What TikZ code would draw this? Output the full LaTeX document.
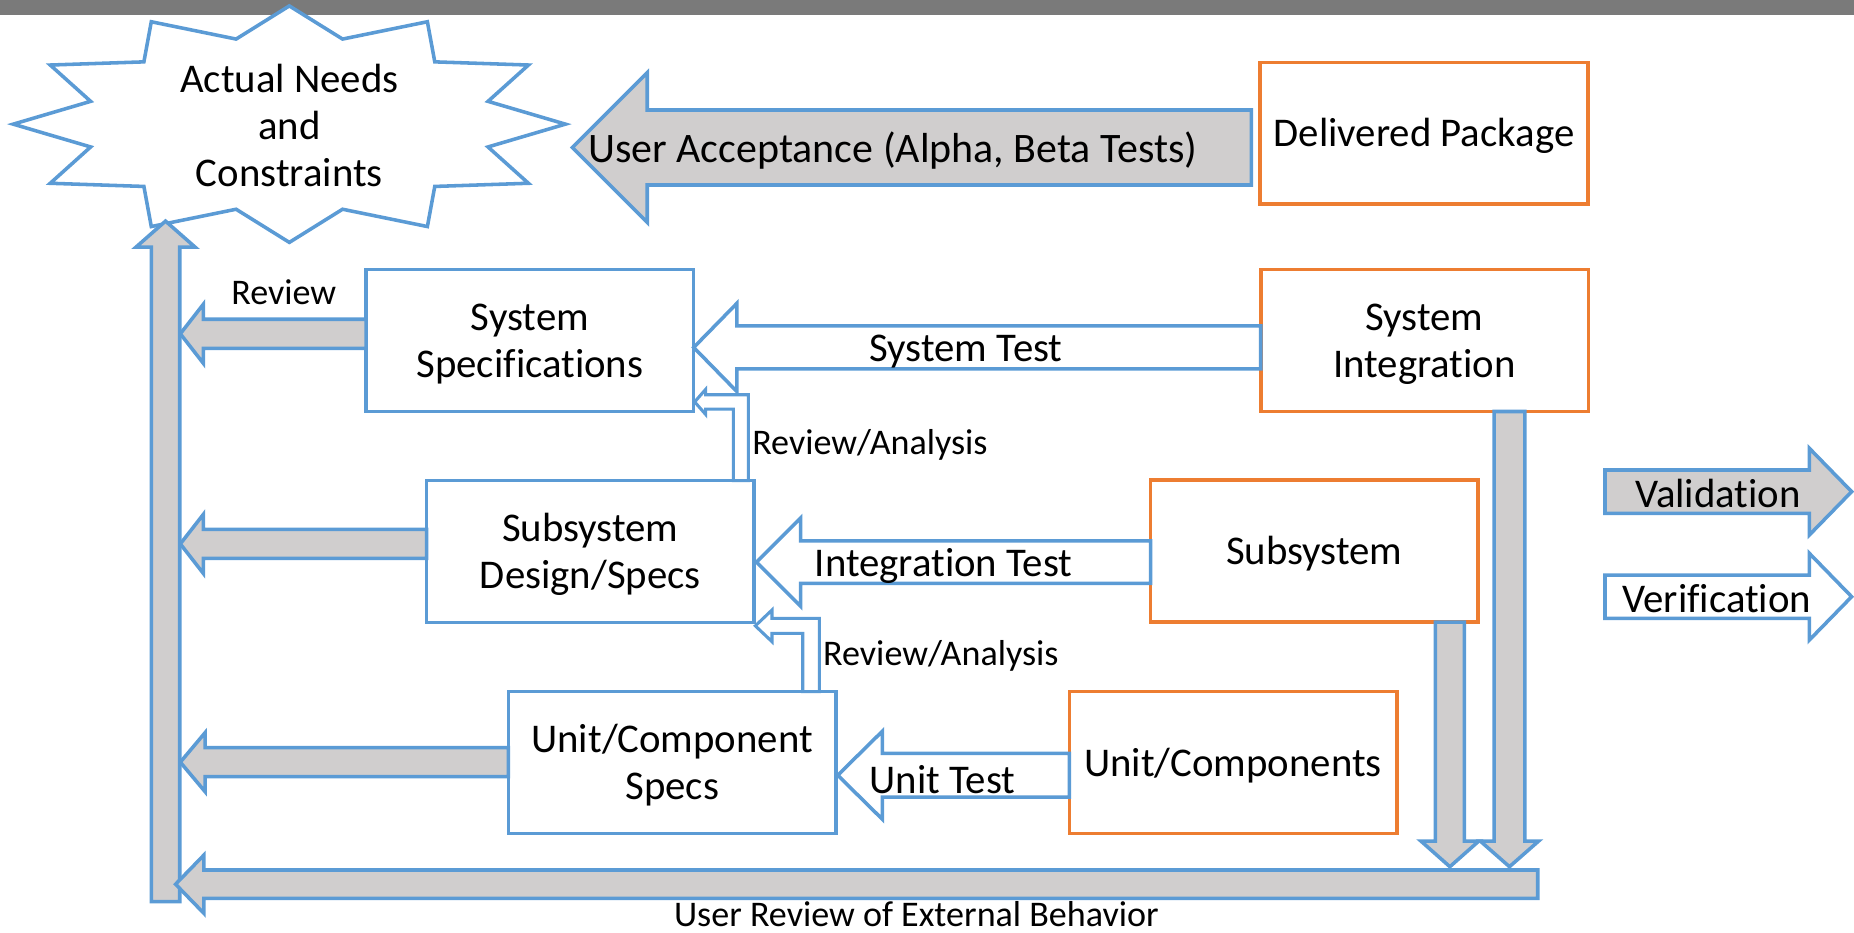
\documentclass[tikz,border=0pt]{standalone}
\usepackage{fontspec}
\setmainfont{Carlito}[Ligatures={NoCommon}]
\usetikzlibrary{calc}
\definecolor{bblue}{HTML}{5B9BD5}
\definecolor{borange}{HTML}{ED7D31}
\definecolor{bgray}{HTML}{D0CECE}
\definecolor{topbar}{HTML}{7A7A7A}
\newcommand\BigTxt{\fontsize{34.5pt}{40pt}\selectfont}
\newcommand\SmallTxt{\fontsize{30.5pt}{36pt}\selectfont}
\newcommand\boxtext[1]{\raisebox{-3.5pt}[\height][\depth]{\begin{tabular}{@{}c@{}}#1\end{tabular}}}
% horizontal block arrow: style, tail, tip, shaft half width, head half width, head length
\newcommand\harrow[6]{%
  \path[#1] let \p1=(#2), \p2=(#3), \n1={sign(\x1-\x2)} in
   (\x1,\y2+#4) -- (\x2+\n1*#6,\y2+#4) -- (\x2+\n1*#6,\y2+#5) -- (\x2,\y2)
   -- (\x2+\n1*#6,\y2-#5) -- (\x2+\n1*#6,\y2-#4) -- (\x1,\y2-#4) -- cycle;}
% vertical block arrow
\newcommand\varrow[6]{%
  \path[#1] let \p1=(#2), \p2=(#3), \n1={sign(\y1-\y2)} in
   (\x2+#4,\y1) -- (\x2+#4,\y2+\n1*#6) -- (\x2+#5,\y2+\n1*#6) -- (\x2,\y2)
   -- (\x2-#5,\y2+\n1*#6) -- (\x2-#4,\y2+\n1*#6) -- (\x2-#4,\y1) -- cycle;}
% bent arrow (up, then left): style, base-left, tip, shaft half, head half, head length, vertical width
\newcommand\bentarrow[7]{%
  \path[#1] let \p1=(#2), \p2=(#3) in
   (\x1,\y1) -- (\x1,\y2-#4) -- (\x2+#6,\y2-#4) -- (\x2+#6,\y2-#5) -- (\x2,\y2)
   -- (\x2+#6,\y2+#5) -- (\x2+#6,\y2+#4) -- (\x1+#7,\y2+#4) -- (\x1+#7,\y1) -- cycle;}
\begin{document}
\begin{tikzpicture}[x=1pt,y=-1pt,line join=miter,
  box/.style={draw=bblue, line width=3pt, fill=white, minimum width=277pt,
    minimum height=120pt, inner sep=0pt, outer sep=0pt, font=\BigTxt},
  obox/.style={box, draw=borange},
  garrow/.style={draw=bblue, line width=3pt, fill=bgray},
  warrow/.style={draw=bblue, line width=3pt, fill=white},
  thinarrow/.style={draw=bblue, line width=2.6pt, fill=white},
  lbl/.style={font=\SmallTxt, inner sep=0pt},
  blbl/.style={font=\BigTxt, inner sep=0pt, align=center}]
\useasboundingbox (0,0) rectangle (1568,789);
\fill[topbar] (0,0) rectangle (1568,12.5);
% star
\draw[line width=3pt, draw=bblue, fill=white]
  plot[samples=24, domain=0:23, variable=\k]
  ({244.7+233.5*(1-0.255*mod(round(\k),2))*cos(90+15*\k)},
   {105-100*(1-0.255*mod(round(\k),2))*sin(90+15*\k)}) -- cycle;
\node[blbl] (needs) at (244.7,106) {Actual Needs\\and\\Constraints};
% boxes
\node[obox] (delivered) at (1204.3,112.75) {\boxtext{Delivered Package}};
\node[obox] (sysint) at (1204.75,288) {\boxtext{System\\Integration}};
\node[obox] (subsys) at (1111.6,466.15) {\boxtext{Subsystem}};
\node[obox] (unitcomp) at (1042.85,644.9) {\boxtext{Unit/Components}};
\node[box] (sysspec) at (448.2,288) {\boxtext{System\\Specifications}};
\node[box] (subdes) at (499.3,466.5) {\boxtext{Subsystem\\Design/Specs}};
\node[box] (unitspec) at (568.5,644.9) {\boxtext{Unit/Component\\Specs}};
% helper coordinates
\coordinate (barR) at (152.5,0);
\coordinate (barBot) at (140.3,762.6);
\coordinate (barTip) at (140,187);
\coordinate (botTail) at (1300.5,747.8);
\coordinate (botTip) at (148.5,747.8);
% up bar to the needs
\varrow{garrow}{barBot}{barTip}{12pt}{25pt}{22pt}
% bottom arrow
\harrow{garrow}{botTail}{botTip}{12pt}{24.7pt}{24pt}
% review arrows to the bar
\coordinate (revTail) at ($(sysspec.west)+(0,-5.7)$);
\coordinate (revTip) at (revTail -| barR);
\harrow{garrow}{revTail}{revTip}{12.3pt}{25pt}{19.5pt}
\coordinate (sdTail) at ($(subdes.west)+(0,-6.5)$);
\coordinate (sdTip) at (sdTail -| barR);
\harrow{garrow}{sdTail}{sdTip}{12.3pt}{25pt}{19.5pt}
\coordinate (usTail) at ($(unitspec.west)+(0,-0.3)$);
\coordinate (usTip) at (usTail -| barR);
\harrow{garrow}{usTail}{usTip}{12.3pt}{25pt}{21pt}
% down arrows
\coordinate (dnA) at ($(subsys.south)+(114.6,0)$);
\coordinate (dnAt) at ($(dnA |- botTail)+(0,-14.8)$);
\varrow{garrow}{dnA}{dnAt}{12.2pt}{24.5pt}{21.7pt}
\coordinate (dnB) at ($(sysint.south)+(71.85,0)$);
\coordinate (dnBt) at ($(dnB |- botTail)+(0,-14.8)$);
\varrow{garrow}{dnB}{dnBt}{13pt}{24.7pt}{21.7pt}
% user acceptance
\coordinate (uaTail) at ($(delivered.west)+(-7.5,12)$);
\coordinate (uaTip) at (484,124.75);
\harrow{garrow}{uaTail}{uaTip}{31.7pt}{63.4pt}{63.4pt}
\node[blbl, font=\fontsize{35.5pt}{40pt}\selectfont] (ualbl) at (755,127) {User Acceptance (Alpha, Beta Tests)};
% tests
\coordinate (stTail) at ($(sysint.west)+(0,5.85)$);
\coordinate (stTip) at (stTail -| sysspec.east);
\harrow{warrow}{stTail}{stTip}{18.2pt}{37.3pt}{36.5pt}
\node[blbl] (stlbl) at (817,297.5) {System Test};
\coordinate (itTail) at ($(subsys.west)+(0,9.25)$);
\coordinate (itTip) at ($(itTail -| subdes.east)+(2,0)$);
\harrow{warrow}{itTail}{itTip}{18pt}{37.3pt}{37.3pt}
\node[blbl] (itlbl) at (798,479) {Integration Test};
\coordinate (utTail) at ($(unitcomp.west)+(0,10.75)$);
\coordinate (utTip) at ($(utTail -| unitspec.east)+(1.5,0)$);
\harrow{warrow}{utTail}{utTip}{18.5pt}{37.3pt}{37.8pt}
\node[blbl] (utlbl) at (797,659) {Unit Test};
% review/analysis bent arrows
\coordinate (raAb) at ($(subdes.north)+(120.9,0)$);
\coordinate (raAt) at ($(sysspec.east)+(0.8,51.9)$);
\bentarrow{thinarrow}{raAb}{raAt}{6.05pt}{10.6pt}{9.3pt}{12.7pt}
\coordinate (raBb) at ($(unitspec.north)+(110.4,0)$);
\coordinate (raBt) at ($(subdes.east)+(1,62.8)$);
\bentarrow{thinarrow}{raBb}{raBt}{6.3pt}{13.4pt}{14.1pt}{14pt}
% labels
\node[lbl, anchor=west] (ra1) at (636,376) {Review/Analysis};
\node[lbl, anchor=west] (ra2) at (696,555) {Review/Analysis};
\node[lbl] (revlbl) at (240,247) {Review};
\node[lbl, anchor=base] (urlbl) at (775,783.5) {User Review of External Behavior};
% legend
\coordinate (valTail) at (1357.4,415.8);
\coordinate (valTip) at (1566,415.8);
\harrow{garrow}{valTail}{valTip}{18.3pt}{36.7pt}{35.8pt}
\node[blbl] (vallbl) at (1453,417) {Validation};
\coordinate (verTail) at (1357.4,504.65);
\coordinate (verTip) at (1566,504.65);
\harrow{warrow}{verTail}{verTip}{18.3pt}{36.7pt}{35.8pt}
\node[blbl] (verlbl) at (1452,506) {Verification};
\end{tikzpicture}
\end{document}
